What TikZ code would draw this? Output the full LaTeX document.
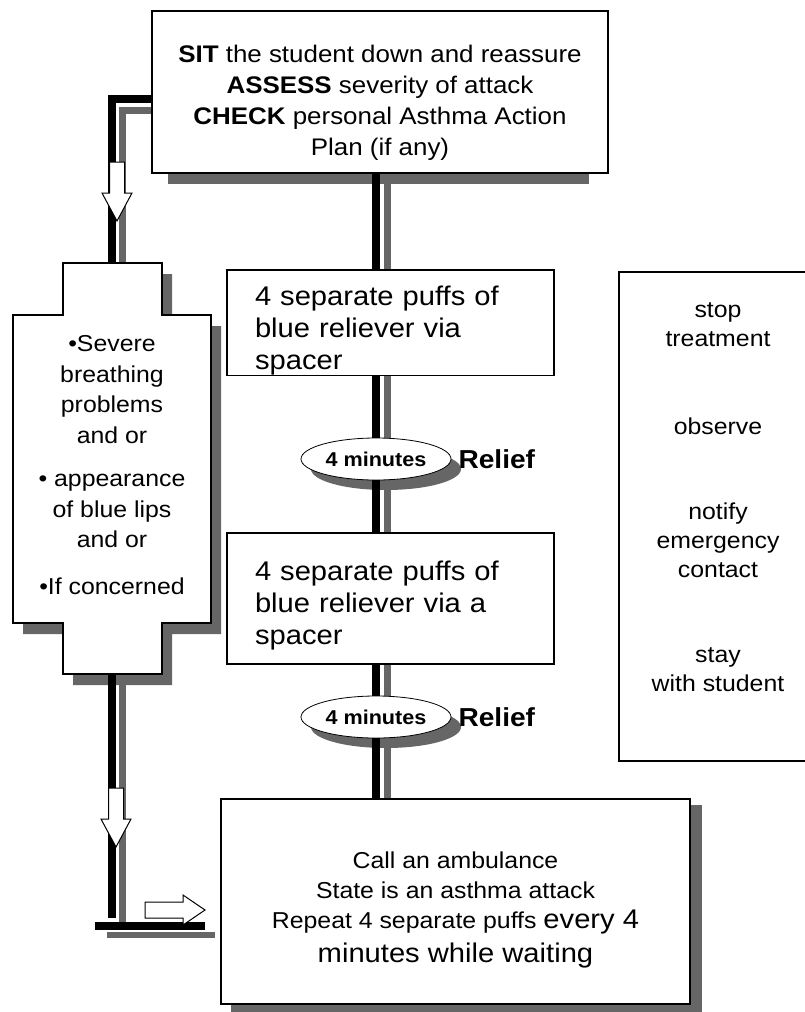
\documentclass[tikz,border=0pt]{standalone}
\usepackage{fontspec}
\setmainfont{Liberation Sans}[FakeStretch=1.08]
\usetikzlibrary{positioning,shapes.geometric,backgrounds,calc}
\definecolor{shadowgray}{gray}{0.4}

\begin{document}
\begin{tikzpicture}[x=1pt,y=-1pt,
    plainbox/.style={draw,line width=1.6pt,fill=white,inner sep=0pt},
    puffbox/.style={plainbox,minimum width=327pt,text width=271pt,align=left,font=\fontsize{27}{32}\selectfont},
    timer/.style={draw,ellipse,line width=0.8pt,fill=white,minimum width=150pt,minimum height=42pt,inner sep=0pt,font=\fontsize{20}{24}\selectfont\bfseries},
    timershade/.style={ellipse,fill=shadowgray,minimum width=150pt,minimum height=42pt,inner sep=0pt},
    relief/.style={inner sep=0pt,font=\fontsize{26}{30}\selectfont\bfseries},
    outline/.style={draw,line width=1.2pt,fill=white},
    shadowfill/.style={fill=shadowgray},
    bar/.style={line width=8pt,line join=miter},
    shadebar/.style={shadowgray,line width=7pt,line join=miter},
    hollow/.style={draw,fill=white,line width=1pt,line join=miter},
    downarrow/.pic={\path[hollow] (-7.5,0) -- (7.5,0) -- (7.5,31) -- (15,31) -- (0,59) -- (-15,31) -- (-7.5,31) -- cycle;},
    rightarrow/.pic={\path[hollow] (0,-8) -- (38,-8) -- (38,-15) -- (60,0) -- (38,15) -- (38,8) -- (0,8) -- cycle;}]

    \useasboundingbox (0,0) rectangle (805,1012);
    \clip (0,0) rectangle (805,1012);

    \node[plainbox,minimum width=456pt,minimum height=162pt,align=center,font=\fontsize{24}{31}\selectfont] (sit) at (380,92)
        {\rule{0pt}{39pt}\textbf{SIT} the student down and reassure\\\textbf{ASSESS} severity of attack\\\textbf{CHECK} personal Asthma Action\\Plan (if any)};
    \node[puffbox,minimum height=101pt] (puff1) at (390.5,322.5) {\rule{0pt}{36pt}4 separate puffs of\\blue reliever via\\spacer};
    \node[puffbox,minimum height=131pt] (puff2) at (390.5,598.5) {\rule{0pt}{34pt}4 separate puffs of\\blue reliever via a\\spacer};
    \node[timer] (wait1) at (376,459) {4 minutes};
    \node[relief,right=7pt of wait1] (relief1) {Relief};
    \node[timer] (wait2) at (376,717) {4 minutes};
    \node[relief,right=7pt of wait2] (relief2) {Relief};
    \node[plainbox,minimum width=469pt,minimum height=205pt,align=center,font=\fontsize{23}{30}\selectfont] (call) at (455.5,901.5)
        {\rule{0pt}{33pt}Call an ambulance\\State is an asthma attack\\Repeat 4 separate puffs {\fontsize{27}{32}\selectfont every 4}\\[4pt]{\fontsize{27}{32}\selectfont minutes while waiting}};
    \node[plainbox,minimum width=198pt,minimum height=489pt,align=center,font=\fontsize{23}{29}\selectfont] (todo) at (718,516.5)
        {stop\\treatment\\[59pt]observe\\[56pt]notify\\emergency\\contact\\[56pt]stay\\with student\rule[-39pt]{0pt}{0pt}};

    \path[outline] (13,315) -- (63,315) -- (63,263) -- (162,263) -- (162,315) -- (211,315) -- (211,623) -- (162,623) -- (162,674) -- (63,674) -- (63,623) -- (13,623) -- cycle;
    \node[align=center,font=\fontsize{23}{30.5}\selectfont] (signs) at (112,465)
        {•Severe\\breathing\\problems\\and or\\[13pt]• appearance\\of blue lips\\and or\\[16pt]•If concerned};
    \coordinate (dtop) at (112,263);
    \coordinate (dbot) at (112,674);
    \coordinate (lturn) at (112,99);
    \coordinate (stopl) at (95,926);
    \coordinate (stopr) at (205,926);

    \begin{scope}[on background layer]
        \fill[shadowfill] ($(sit.south west)+(17,0)$) rectangle ($(sit.south east)+(-20,10)$);
        \fill[shadowfill] ($(call.south west)+(11,7)$) rectangle ($(call.north east)+(11,7)$);
        \fill[shadowfill,shift={(10,11)}] (13,315) -- (63,315) -- (63,263) -- (162,263) -- (162,315) -- (211,315) -- (211,623) -- (162,623) -- (162,674) -- (63,674) -- (63,623) -- (13,623) -- cycle;
        \node[timershade] (shade1) at ($(wait1)+(10,10)$) {};
        \node[timershade] (shade2) at ($(wait2)+(10,10)$) {};
        \draw[shadebar] ($(wait1 |- sit.south)+(11,0)$) -- ($(wait1 |- puff1.north)+(11,0)$);
        \draw[shadebar] ($(wait1 |- puff1.south)+(11,0)$) -- ($(wait1 |- puff2.north)+(11,0)$);
        \draw[shadebar] ($(wait2 |- puff2.south)+(11,0)$) -- ($(wait2 |- call.north)+(11,12)$);
        \draw[shadebar] ($(sit.west |- lturn)+(0,11)$) -- ($(lturn)+(10,11)$) -- ($(dtop)+(10,11)$);
        \draw[shadebar] ($(dbot)+(10,11)$) -- ($(dbot |- stopl)+(10,-4)$);
        \draw[shadebar,line width=6pt] ($(stopl)+(12,9)$) -- ($(stopr)+(10,9)$);
    \end{scope}

    \draw[bar] (wait1 |- sit.south) -- (wait1 |- puff1.north);
    \draw[bar] (wait1 |- puff1.south) -- (wait1.north);
    \draw[bar] (wait1.south) -- (wait1 |- puff2.north);
    \draw[bar] (wait2 |- puff2.south) -- (wait2.north);
    \draw[bar] (wait2.south) -- (wait2 |- call.north);
    \draw[bar] (sit.west |- lturn) -- (lturn) -- (dtop);
    \draw[bar] (dbot) -- ($(dbot |- stopl)+(0,-8)$);
    \draw[bar] (stopl) -- (stopr);

    \pic at (117,162) {downarrow};
    \pic at (116,788) {downarrow};
    \pic at (145,910) {rightarrow};
\end{tikzpicture}
\end{document}
